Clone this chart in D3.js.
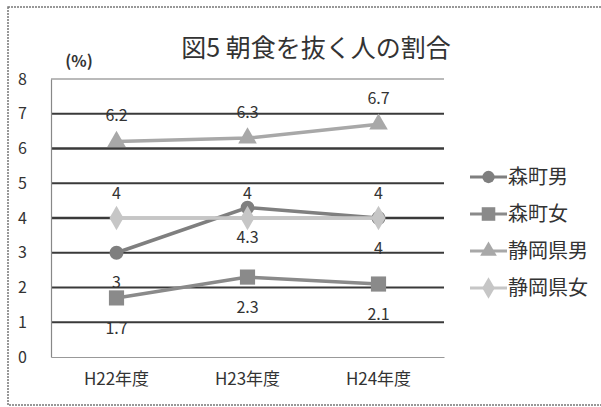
<!DOCTYPE html>
<html lang="ja">
<head>
<meta charset="UTF-8">
<title>図5 朝食を抜く人の割合</title>
<script src="https://d3js.org/d3.v7.min.js"></script>
<style>
  body { margin: 0; background: #fff; }
  text { font-family: "Noto Sans CJK JP", "Noto Sans", sans-serif; }
</style>
</head>
<body>
<script>
    var years = ['H22年度', 'H23年度', 'H24年度']
    var moriMale = [3, 4.3, 4]
    var moriFemale = [1.7, 2.3, 2.1]
    var shizuokaMale = [6.2, 6.3, 6.7]
    var shizuokaFemale = [4, 4, 4]
    var seriesNames = ['森町男', '森町女', '静岡県男', '静岡県女']
    var yTicks = [0, 1, 2, 3, 4, 5, 6, 7, 8]

    var w = 601, h = 407
    var plotL = 51, plotR = 444, plotT = 79, plotB = 357

    var svg = d3.select('body').append('svg')
        .attr('width', w)
        .attr('height', h)

    // outer frame (runs off the right edge like the scan)
    svg.append('rect')
        .attr('x', 8).attr('y', 7)
        .attr('width', 620).attr('height', 398)
        .attr('fill', 'none')
        .attr('stroke', '#777')
        .attr('stroke-width', 1.5)
        .attr('stroke-dasharray', '2,1')

    var x = d3.scaleBand().domain(years).range([plotL, plotR])
    var y = d3.scaleLinear().domain([0, 8]).range([plotB, plotT])

    // grid lines
    svg.append('g').selectAll('line')
        .data(yTicks.filter(d => d > 0))
        .enter().append('line')
        .attr('x1', plotL).attr('x2', plotR)
        .attr('y1', d => y(d)).attr('y2', d => y(d))
        .attr('stroke', d => d == 8 ? '#777' : '#3a3a3a')
        .attr('stroke-width', d => d == 8 ? 1.2 : (d == 6 || d == 4 ? 2.6 : 1.8))

    // y axis
    var axisY = d3.axisLeft(y).tickValues(yTicks).tickSize(0).tickPadding(24)
    var gy = svg.append('g')
        .attr('transform', 'translate(' + plotL + ',0)')
        .call(axisY)
    gy.select('.domain').attr('stroke', '#888').attr('stroke-width', 1.2)
    gy.selectAll('text').attr('font-size', 16).attr('fill', '#333')

    // x axis
    var axisX = d3.axisBottom(x).tickSize(0).tickPadding(16)
    var gx = svg.append('g')
        .attr('transform', 'translate(0,' + plotB + ')')
        .call(axisX)
    gx.select('.domain').attr('stroke', '#999').attr('stroke-width', 1.2)
    gx.selectAll('text').attr('font-size', 17).attr('fill', '#333')

    // title and unit
    svg.append('text')
        .attr('x', 316).attr('y', 57)
        .attr('text-anchor', 'middle')
        .attr('font-size', 25)
        .attr('fill', '#333')
        .text('図5  朝食を抜く人の割合')

    svg.append('text')
        .attr('x', 79).attr('y', 67)
        .attr('text-anchor', 'middle')
        .attr('font-size', 16)
        .attr('font-weight', 'bold')
        .attr('fill', '#333')
        .text('(%)')

    var series = [
        { name: seriesNames[0], values: moriMale, color: '#7f7f7f', shape: d3.symbolCircle, size: 150, labelDy: 30 },
        { name: seriesNames[1], values: moriFemale, color: '#8a8a8a', shape: d3.symbolSquare, size: 230, labelDy: 30 },
        { name: seriesNames[2], values: shizuokaMale, color: '#a8a8a8', shape: d3.symbolTriangle, size: 150, labelDy: -26 },
        { name: seriesNames[3], values: shizuokaFemale, color: '#c6c6c6', shape: d3.symbolDiamond, size: 170, labelDy: -25 }
    ]

    var cx = d => x(d) + x.bandwidth() / 2
    var line = d3.line().x((d, i) => cx(years[i])).y(d => y(d))

    series.forEach(function (s) {
        var g = svg.append('g')
        g.append('path')
            .attr('d', line(s.values))
            .attr('fill', 'none')
            .attr('stroke', s.color)
            .attr('stroke-width', 3.5)
        g.selectAll('path.mk')
            .data(s.values)
            .enter().append('path')
            .attr('class', 'mk')
            .attr('transform', (d, i) => 'translate(' + cx(years[i]) + ',' + y(d) + ')')
            .attr('d', d3.symbol().type(s.shape).size(s.size))
            .attr('fill', s.color)
    })

    // data labels drawn last
    series.forEach(function (s) {
        svg.append('g').selectAll('text')
            .data(s.values)
            .enter().append('text')
            .attr('x', (d, i) => cx(years[i]))
            .attr('y', d => y(d) + s.labelDy)
            .attr('dy', '0.35em')
            .attr('text-anchor', 'middle')
            .attr('font-size', 16)
            .attr('fill', '#333')
            .text(d => d)
    })

    // legend
    var legend = svg.append('g')
    series.forEach(function (s, i) {
        var ly = 177 + i * 37
        legend.append('line')
            .attr('x1', 470).attr('x2', 507)
            .attr('y1', ly).attr('y2', ly)
            .attr('stroke', s.color)
            .attr('stroke-width', 3)
        legend.append('path')
            .attr('transform', 'translate(488.5,' + ly + ')')
            .attr('d', d3.symbol().type(s.shape).size(s.size * 0.8))
            .attr('fill', s.color)
        legend.append('text')
            .attr('x', 508).attr('y', ly)
            .attr('dy', '0.36em')
            .attr('font-size', 20)
            .attr('fill', '#333')
            .text(s.name)
    })
</script>
</body>
</html>
